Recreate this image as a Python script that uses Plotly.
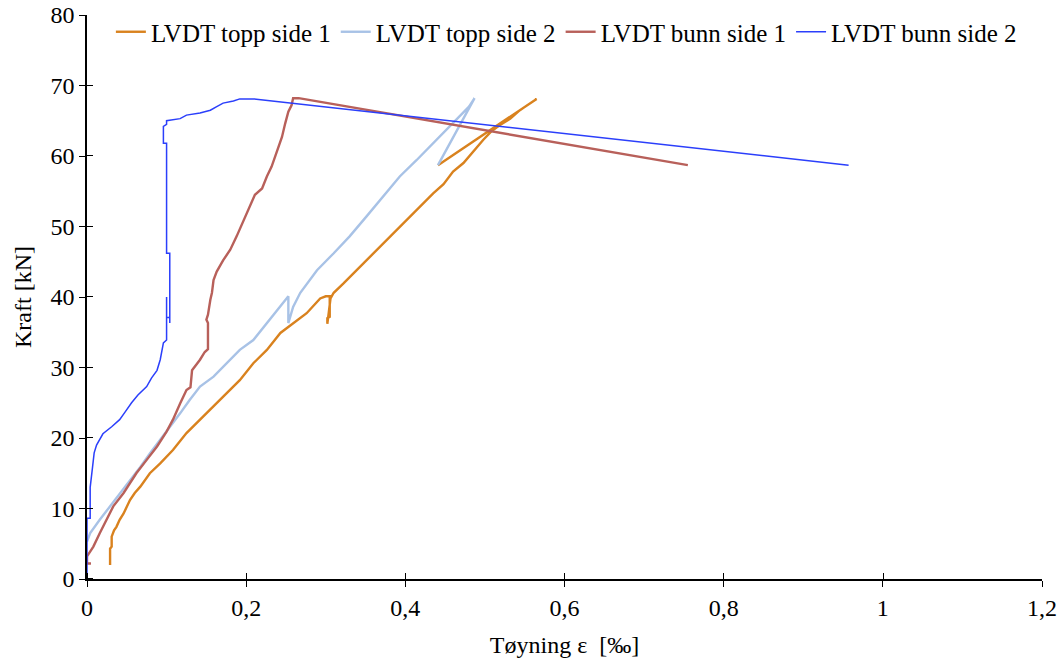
import plotly.graph_objects as go

# Strain [‰] and force [kN] readings for each LVDT
topp1_x = [0.029, 0.029, 0.031, 0.031, 0.034, 0.037, 0.041, 0.046, 0.054, 0.060, 0.067, 0.079,
           0.092, 0.108, 0.125, 0.142, 0.159, 0.176, 0.192, 0.209, 0.226, 0.243, 0.259, 0.276,
           0.293, 0.300, 0.305, 0.305, 0.302, 0.302, 0.306, 0.310, 0.322, 0.343, 0.358, 0.372,
           0.393, 0.414, 0.435, 0.448, 0.460, 0.473, 0.485, 0.498, 0.508, 0.519, 0.532, 0.544,
           0.557, 0.565, 0.441]
topp1_y = [2.0, 4.3, 4.6, 6.0, 6.9, 7.4, 8.4, 9.3, 11.2, 12.2, 13.1, 15.0,
           16.4, 18.3, 20.7, 22.6, 24.4, 26.3, 28.2, 30.6, 32.5, 34.9, 36.3, 37.7,
           39.8, 40.1, 40.1, 37.2, 37.0, 36.2, 39.8, 40.6, 41.9, 44.3, 46.0, 47.6,
           50.0, 52.3, 54.7, 56.0, 57.8, 59.0, 60.6, 62.3, 63.5, 64.4, 65.3, 66.5,
           67.5, 68.1, 58.7]

topp2_x = [0.0, 0.004, 0.016, 0.029, 0.041, 0.054, 0.067, 0.079, 0.092, 0.104, 0.117, 0.129,
           0.142, 0.159, 0.176, 0.192, 0.209, 0.226, 0.243, 0.253, 0.253, 0.259, 0.268, 0.280,
           0.289, 0.310, 0.330, 0.351, 0.372, 0.393, 0.414, 0.435, 0.456, 0.473, 0.480, 0.487,
           0.441]
topp2_y = [5.3, 6.5, 8.4, 10.3, 12.2, 14.0, 15.9, 17.8, 19.7, 21.6, 23.5, 25.4,
           27.3, 28.7, 30.6, 32.5, 33.9, 36.3, 38.6, 40.1, 36.3, 38.6, 40.6, 42.4,
           43.8, 46.2, 48.6, 51.4, 54.2, 57.1, 59.4, 61.8, 64.2, 66.1, 67.0, 68.2,
           58.7]

bunn1_x = [0.005, 0.0, 0.0, 0.008, 0.016, 0.025, 0.033, 0.046, 0.054, 0.062, 0.075, 0.088,
           0.100, 0.108, 0.117, 0.125, 0.130, 0.132, 0.142, 0.148, 0.152, 0.152, 0.150, 0.152,
           0.155, 0.157, 0.159, 0.163, 0.171, 0.180, 0.188, 0.197, 0.205, 0.211, 0.220, 0.226,
           0.232, 0.238, 0.245, 0.249, 0.253, 0.257, 0.259, 0.266, 0.755]
bunn1_y = [2.2, 2.2, 3.2, 4.6, 6.5, 8.4, 10.3, 12.2, 13.6, 15.0, 16.9, 18.8,
           20.9, 22.6, 24.9, 26.8, 27.2, 29.6, 31.1, 32.2, 32.6, 36.3, 36.8, 37.5,
           39.6, 40.6, 42.4, 43.6, 45.2, 46.7, 48.6, 50.9, 52.8, 54.5, 55.4, 57.1,
           58.5, 60.4, 62.7, 64.6, 66.3, 67.2, 68.2, 68.2, 58.7]

bunn2_x = [0.0, 0.0, 0.004, 0.004, 0.007, 0.009, 0.012, 0.020, 0.031, 0.041, 0.048, 0.056,
           0.064, 0.075, 0.081, 0.088, 0.092, 0.096, 0.100, 0.100, 0.100, 0.104, 0.104, 0.104,
           0.100, 0.100, 0.096, 0.096, 0.100, 0.100, 0.117, 0.125, 0.142, 0.155, 0.163, 0.171,
           0.184, 0.192, 0.210, 0.957]
bunn2_y = [0.3, 8.6, 8.6, 13.0, 15.9, 17.9, 19.0, 20.6, 21.6, 22.6, 23.7, 25.0,
           26.1, 27.3, 28.5, 29.6, 31.1, 33.5, 33.9, 40.0, 37.1, 37.1, 36.3, 46.2,
           46.2, 61.8, 61.8, 64.2, 64.5, 65.0, 65.3, 65.8, 66.1, 66.5, 67.0, 67.5,
           67.8, 68.1, 68.1, 58.7]

series = [
    ("LVDT topp side 1", topp1_x, topp1_y, "#D9821E", 2.4),
    ("LVDT topp side 2", topp2_x, topp2_y, "#A8C2E6", 2.4),
    ("LVDT bunn side 1", bunn1_x, bunn1_y, "#B8605A", 2.4),
    ("LVDT bunn side 2", bunn2_x, bunn2_y, "#2B3FFB", 1.5),
]

FONT = "Liberation Serif"
SIZE = 24

fig = go.Figure()
for name, xs, ys, color, width in series:
    fig.add_trace(go.Scatter(x=xs, y=ys, mode="lines", name=name,
                             line=dict(color=color, width=width)))

axis_common = dict(showgrid=False, zeroline=False, linecolor="black", linewidth=1.5,
                   tickcolor="black", tickwidth=1, ticklen=6, ticks="outside", showline=True,
                   automargin=False,
                   tickfont=dict(family=FONT, size=SIZE, color="black"))

# plot area: 579 px tall paper region, y axis occupies the lower 564 px of it
PAPER_H = 663 - 84
Y_TOP = (PAPER_H - 15) / PAPER_H

# minor ticks (nudged a hair off the major positions) give the inner half of
# the crossing tick marks
fig.update_layout(
    width=1063, height=663,
    margin=dict(l=87, r=21, t=0, b=84),
    paper_bgcolor="white", plot_bgcolor="white",
    separators=", ",
    font=dict(family=FONT, size=SIZE, color="black"),
    xaxis=dict(range=[0, 1.2], tick0=0, dtick=0.2,
               minor=dict(ticks="inside", tick0=0.0004, dtick=0.2, ticklen=6,
                          tickcolor="black", tickwidth=1, showgrid=False),
               title=dict(text="Tøyning ε  [‰]", font=dict(family=FONT, size=SIZE), standoff=17),
               **axis_common),
    yaxis=dict(range=[0, 80], tick0=0, dtick=10, domain=[0, Y_TOP],
               minor=dict(ticks="inside", tick0=0.02, dtick=10, ticklen=6,
                          tickcolor="black", tickwidth=1, showgrid=False),
               title=dict(text="Kraft [kN]", font=dict(family=FONT, size=SIZE), standoff=12),
               **axis_common),
    legend=dict(orientation="h", x=0.025, xanchor="left",
                y=(PAPER_H - 32) / PAPER_H, yanchor="middle",
                font=dict(family=FONT, size=25), bgcolor="rgba(0,0,0,0)",
                itemwidth=30, tracegroupgap=0),
    showlegend=True,
)

fig.write_html("out.html")
